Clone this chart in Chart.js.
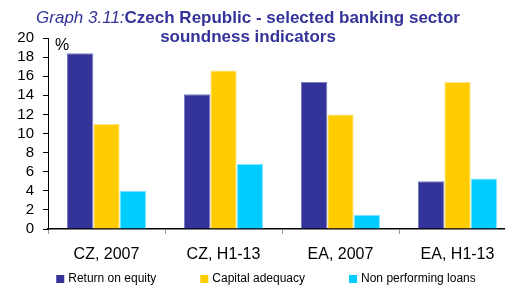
<!DOCTYPE html>
<html>
<head>
<meta charset="utf-8">
<script src="https://cdn.jsdelivr.net/npm/chart.js@4/dist/chart.umd.min.js"></script>
<style>
  html, body { margin: 0; padding: 0; background: #fff; overflow: hidden; }
  #wrap { position: relative; width: 520px; height: 286px; }
  #title {
    position: absolute; left: 0; top: 8px; width: 496px;
    text-align: center; color: #333399;
    font-family: "Liberation Sans", Arial, sans-serif; font-size: 17px; line-height: 19px;
    font-weight: bold;
  }
  #title i { font-weight: normal; }
</style>
</head>
<body>
<div id="wrap">
  <div id="title"><i>Graph 3.11:</i>Czech Republic - selected banking sector<br>soundness indicators</div>
  <canvas id="barChart" width="520" height="286"></canvas>
</div>
<script>
// Datos
const categories = ['CZ, 2007', 'CZ, H1-13', 'EA, 2007', 'EA, H1-13'];
const returnOnEquity = [18.4, 14.1, 15.4, 5.0];
const capitalAdequacy = [11.0, 16.6, 12.0, 15.4];
const nonPerformingLoans = [4.0, 6.8, 1.5, 5.3];
const yTicks = [0, 2, 4, 6, 8, 10, 12, 14, 16, 18, 20];

const FONT = '"Liberation Sans", Arial, sans-serif';

// etiqueta "%" en la esquina del eje
const percentLabel = {
    id: 'percentLabel',
    afterDraw(chart) {
        const c = chart.ctx;
        c.save();
        c.font = '16px ' + FONT;
        c.fillStyle = '#000';
        c.textBaseline = 'middle';
        c.fillText('%', chart.chartArea.left + 7, chart.chartArea.top + 8);
        c.restore();
    }
};

// leyenda propia abajo, cuadritos pequeños
const bottomLegend = {
    id: 'bottomLegend',
    afterDraw(chart) {
        const c = chart.ctx;
        const gap = 44, box = 8, y = 279;
        c.save();
        c.font = '12px ' + FONT;
        c.textBaseline = 'middle';
        const items = chart.data.datasets.map(ds => ({
            label: ds.label,
            color: ds.backgroundColor,
            w: box + 4 + c.measureText(ds.label).width
        }));
        const total = items.reduce((a, it) => a + it.w, 0) + gap * (items.length - 1);
        let x = 266 - total / 2;
        items.forEach(it => {
            c.fillStyle = it.color;
            c.fillRect(x, y - box / 2, box, box);
            c.fillStyle = '#000';
            c.fillText(it.label, x + box + 4, y);
            x += it.w + gap;
        });
        c.restore();
    }
};

const ctx = document.getElementById('barChart').getContext('2d');
new Chart(ctx, {
    type: 'bar',
    data: {
        labels: categories,
        datasets: [
            {
                label: 'Return on equity',
                data: returnOnEquity,
                backgroundColor: '#333399',
                borderColor: '#7a7ac2',
                borderWidth: 1
            },
            {
                label: 'Capital adequacy',
                data: capitalAdequacy,
                backgroundColor: '#ffcc00',
                borderColor: '#ffe480',
                borderWidth: 1
            },
            {
                label: 'Non performing loans',
                data: nonPerformingLoans,
                backgroundColor: '#00ccff',
                borderColor: '#80e4ff',
                borderWidth: 1
            }
        ]
    },
    options: {
        responsive: false,
        animation: false,
        categoryPercentage: 0.675,
        barPercentage: 1,
        layout: { padding: { left: 0, right: 4, top: 38, bottom: 0 } },
        plugins: {
            legend: { display: false },
            tooltip: { enabled: false }
        },
        scales: {
            x: {
                grid: {
                    offset: true,
                    drawOnChartArea: false,
                    tickLength: 5,
                    color: '#999'
                },
                border: { color: '#000', width: 1.5 },
                ticks: {
                    color: '#000',
                    padding: 11,
                    maxRotation: 0,
                    autoSkip: false,
                    font: { family: FONT, size: 16 }
                },
                afterFit(s) { s.height = 286 - 229; }
            },
            y: {
                min: 0,
                max: 20,
                afterBuildTicks(s) { s.ticks = yTicks.map(v => ({ value: v })); },
                grid: {
                    drawOnChartArea: false,
                    tickLength: 5,
                    color: '#000'
                },
                border: { color: '#000', width: 1 },
                ticks: {
                    color: '#000',
                    padding: 9,
                    autoSkip: false,
                    font: { family: FONT, size: 15 }
                },
                afterFit(s) { s.width = 48; }
            }
        }
    },
    plugins: [percentLabel, bottomLegend]
});
</script>
</body>
</html>
